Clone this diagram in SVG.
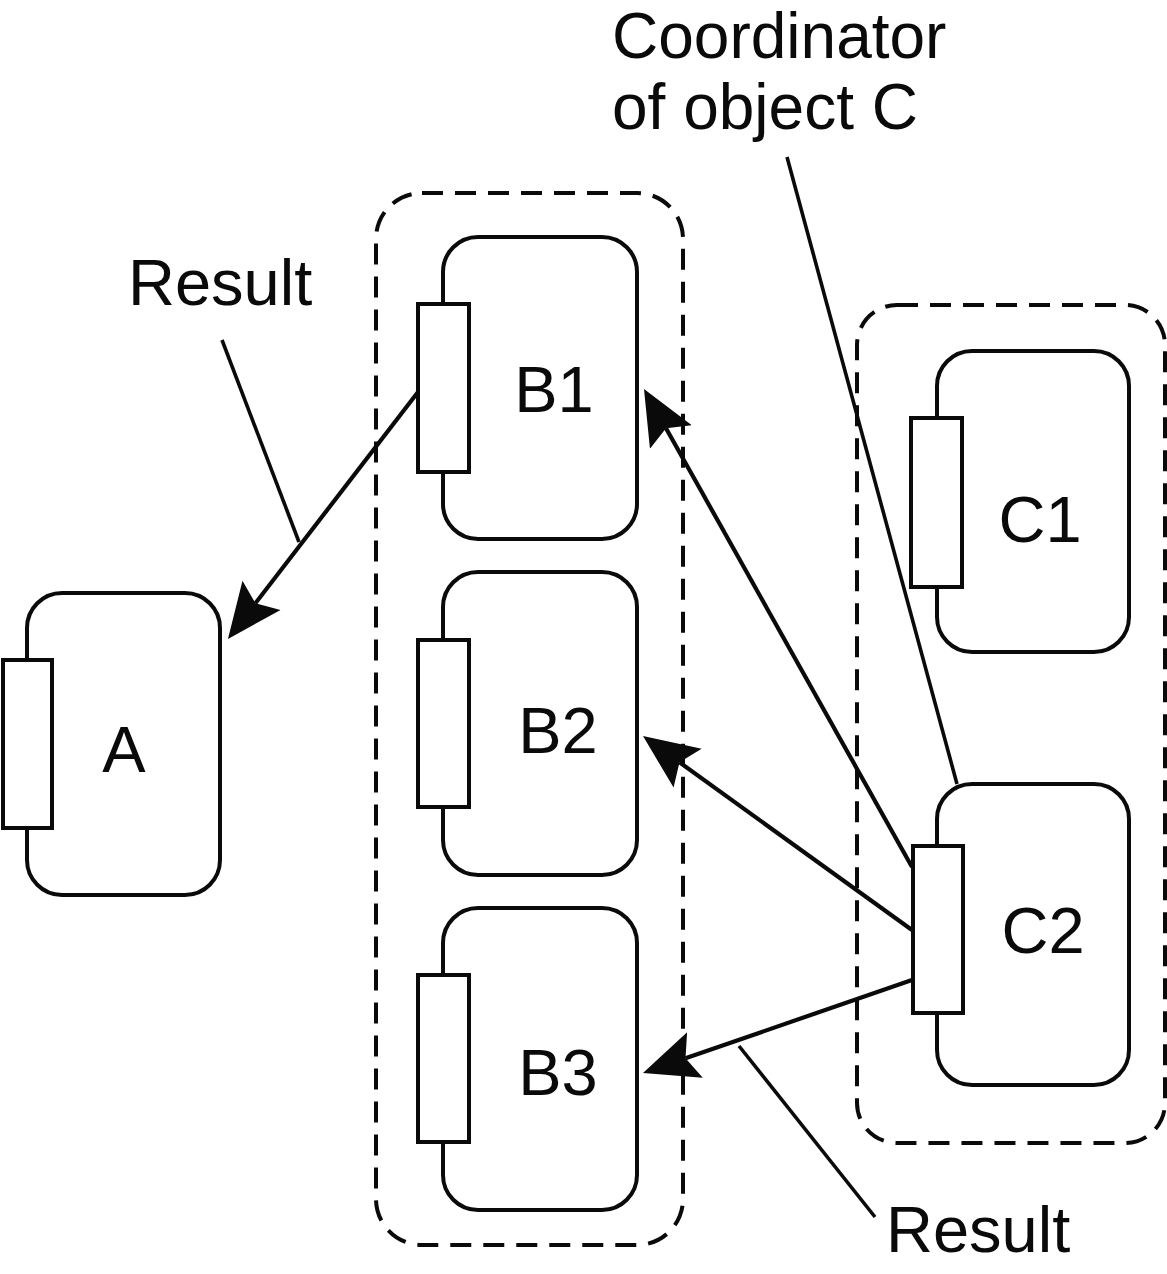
<svg xmlns="http://www.w3.org/2000/svg" width="1167" height="1274" viewBox="0 0 1167 1274">
<style>
.box{fill:#fff;stroke:#0a0a0a;stroke-width:4}
.port{fill:#fff;stroke:#0a0a0a;stroke-width:4}
.grp{fill:none;stroke:#0a0a0a;stroke-width:4;stroke-dasharray:21 12}
.ln{fill:none;stroke:#0a0a0a;stroke-width:4.2}
.lead{fill:none;stroke:#0a0a0a;stroke-width:3.6}
text{font-family:"Liberation Sans",Arial,sans-serif;font-size:65px;fill:#0a0a0a}
.c{text-anchor:middle}
</style>
<defs>
<marker id="ah" markerUnits="userSpaceOnUse" markerWidth="60" markerHeight="60" viewBox="0 -30 60 60" refX="10" refY="0" orient="auto">
<path d="M55,0 L0,-24 L10,0 L0,24 Z" fill="#0a0a0a"/>
</marker>
</defs>
<rect width="1167" height="1274" fill="#fff"/>
<g id="groupB"><rect class="grp" x="376" y="193" width="307" height="1052" rx="46"/></g>
<g id="groupC"><rect class="grp" x="857" y="305" width="308" height="838" rx="40"/></g>
<g id="A">
<rect class="box" x="27" y="593" width="193" height="302" rx="35"/>
<rect class="port" x="3" y="660" width="49" height="168"/>
<text class="c" x="124" y="772">A</text>
</g>
<g id="B1">
<rect class="box" x="443" y="237" width="194" height="302" rx="35"/>
<rect class="port" x="418" y="304" width="51" height="168"/>
<text class="c" x="554" y="412">B1</text>
</g>
<g id="B2">
<rect class="box" x="443" y="572" width="194" height="303" rx="35"/>
<rect class="port" x="418" y="640" width="51" height="167"/>
<text class="c" x="558" y="753">B2</text>
</g>
<g id="B3">
<rect class="box" x="443" y="908" width="194" height="302" rx="35"/>
<rect class="port" x="418" y="975" width="51" height="167"/>
<text class="c" x="558" y="1095">B3</text>
</g>
<g id="C1">
<rect class="box" x="937" y="351" width="192" height="301" rx="35"/>
<rect class="port" x="911" y="418" width="51" height="169"/>
<text class="c" x="1040" y="542">C1</text>
</g>
<g id="C2">
<rect class="box" x="937" y="784" width="192" height="301" rx="35"/>
<rect class="port" x="913" y="846" width="50" height="167"/>
<text class="c" x="1043" y="953">C2</text>
</g>
<g id="connectors">
<line class="ln" x1="418" y1="392" x2="255.4" y2="603.3" marker-end="url(#ah)"/>
<line class="ln" x1="912" y1="867" x2="666" y2="428.2" marker-end="url(#ah)"/>
<line class="ln" x1="912" y1="930" x2="679.5" y2="762.3" marker-end="url(#ah)"/>
<line class="ln" x1="912" y1="980" x2="685.5" y2="1058.3" marker-end="url(#ah)"/>
<line class="lead" x1="222" y1="340" x2="299" y2="542"/>
<line class="lead" x1="787" y1="157" x2="957" y2="784"/>
<line class="lead" x1="739" y1="1046" x2="875" y2="1217"/>
</g>
<g id="labels">
<text x="128" y="305">Result</text>
<text x="612" y="58" style="font-size:64px">Coordinator</text>
<text x="612" y="129" style="font-size:64px">of object C</text>
<text x="886" y="1252">Result</text>
</g>
</svg>
